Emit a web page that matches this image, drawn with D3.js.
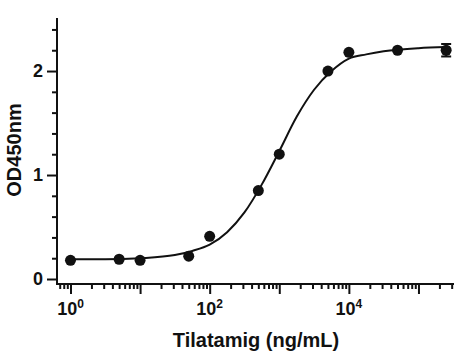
<!DOCTYPE html>
<html>
  <head>
    <meta charset="utf-8">
    <title>Tilatamig OD450</title>
    <script src="https://cdnjs.cloudflare.com/ajax/libs/d3/7.8.5/d3.min.js"></script>
    <style>
      body { margin: 0; background: #fff; }
      text { font-family: Arial, "Liberation Sans", sans-serif; font-weight: bold; fill: #111; }
    </style>
  </head>
  <body>
    <script>
      // measured points
      var conc = [1, 5, 10, 50, 100, 500, 1000, 5000, 10000, 50000, 250000];
      var od   = [0.18, 0.19, 0.18, 0.22, 0.41, 0.85, 1.20, 2.00, 2.18, 2.20, 2.20];
      var sem  = [0, 0, 0, 0, 0, 0, 0, 0, 0, 0, 0.06];

      // fitted curve
      var fitX = [1, 3.16, 10, 31.6, 56.2, 100, 178, 316, 562, 1000, 1778, 3162, 5623, 10000, 17783, 31623, 100000, 250000];
      var fitY = [0.19, 0.19, 0.20, 0.23, 0.27, 0.33, 0.45, 0.64, 0.91, 1.23, 1.56, 1.82, 2.00, 2.12, 2.16, 2.19, 2.22, 2.23];

      var yMajor = [0, 1, 2];
      var yMinor = [0.2, 0.4, 0.6, 0.8, 1.2, 1.4, 1.6, 1.8, 2.2, 2.4];
      var xLabelExp = [0, 2, 4];

      var svg = d3.select("body").append("svg")
        .attr("width", 472)
        .attr("height", 360);

      var x = d3.scaleLog().domain([0.64, 3.24e5]).range([57, 454]);
      var y = d3.scaleLinear().domain([-0.048, 2.51]).range([284, 18]);

      // x ticks
      var xMajor = [], xMinor = [];
      for (var e = -1; e <= 5; e++) {
        for (var m = 1; m <= 9; m++) {
          var v = m * Math.pow(10, e);
          if (v < 0.66 || v > 3.2e5) continue;
          if (m == 1) xMajor.push(v); else xMinor.push(v);
        }
      }

      svg.append("g").attr("transform", "translate(0,284)")
        .call(d3.axisBottom(x).tickValues(xMinor).tickSize(5).tickFormat(""))
        .call(function (g) { g.select(".domain").remove(); })
        .selectAll("line").attr("stroke", "#111").attr("stroke-width", 2);

      svg.append("g").attr("transform", "translate(0,284)")
        .call(d3.axisBottom(x).tickValues(xMajor).tickSize(10).tickFormat(""))
        .call(function (g) { g.select(".domain").remove(); })
        .selectAll("line").attr("stroke", "#111").attr("stroke-width", 2);

      var xl = svg.selectAll(".xlab").data(xLabelExp).enter().append("text")
        .attr("class", "xlab")
        .attr("x", function (d) { return x(Math.pow(10, d)); })
        .attr("y", 315)
        .attr("text-anchor", "middle")
        .style("font-size", "18px");
      xl.append("tspan").text("10");
      xl.append("tspan").attr("dy", -7).style("font-size", "12px").text(function (d) { return d; });

      // y ticks
      svg.append("g").attr("transform", "translate(57,0)")
        .call(d3.axisLeft(y).tickValues(yMinor).tickSize(5).tickFormat(""))
        .call(function (g) { g.select(".domain").remove(); })
        .selectAll("line").attr("stroke", "#111").attr("stroke-width", 2);

      var ya = svg.append("g").attr("transform", "translate(57,0)")
        .call(d3.axisLeft(y).tickValues(yMajor).tickSize(10).tickPadding(4).tickFormat(d3.format("d")))
        .call(function (g) { g.select(".domain").remove(); });
      ya.selectAll("line").attr("stroke", "#111").attr("stroke-width", 2);
      ya.selectAll("text").style("font-size", "18px").attr("fill", "#111");

      // axis lines
      svg.append("line").attr("x1", 57).attr("x2", 57).attr("y1", 18).attr("y2", 285)
        .attr("stroke", "#111").attr("stroke-width", 2);
      svg.append("line").attr("x1", 56).attr("x2", 454).attr("y1", 284).attr("y2", 284)
        .attr("stroke", "#111").attr("stroke-width", 2);

      // fit curve
      var line = d3.line()
        .x(function (d) { return x(d[0]); })
        .y(function (d) { return y(d[1]); })
        .curve(d3.curveMonotoneX);

      svg.append("path")
        .datum(d3.zip(fitX, fitY))
        .attr("d", line)
        .attr("fill", "none")
        .attr("stroke", "#111")
        .attr("stroke-width", 2);

      var pts = d3.zip(conc, od, sem);

      // error bars
      var eb = svg.selectAll(".eb").data(pts.filter(function (d) { return d[2] > 0; })).enter().append("g");
      eb.append("line")
        .attr("x1", function (d) { return x(d[0]); }).attr("x2", function (d) { return x(d[0]); })
        .attr("y1", function (d) { return y(d[1] - d[2]); }).attr("y2", function (d) { return y(d[1] + d[2]); })
        .attr("stroke", "#111").attr("stroke-width", 2);
      [-1, 1].forEach(function (s) {
        eb.append("line")
          .attr("x1", function (d) { return x(d[0]) - 5; }).attr("x2", function (d) { return x(d[0]) + 5; })
          .attr("y1", function (d) { return y(d[1] + s * d[2]); }).attr("y2", function (d) { return y(d[1] + s * d[2]); })
          .attr("stroke", "#111").attr("stroke-width", 2);
      });

      svg.selectAll("circle").data(pts).enter().append("circle")
        .attr("cx", function (d) { return x(d[0]); })
        .attr("cy", function (d) { return y(d[1]); })
        .attr("r", 5.5)
        .attr("fill", "#111");

      // titles
      svg.append("text")
        .attr("transform", "translate(21,150) rotate(-90)")
        .attr("text-anchor", "middle")
        .style("font-size", "20px")
        .text("OD450nm");

      svg.append("text")
        .attr("x", 256)
        .attr("y", 347)
        .attr("text-anchor", "middle")
        .style("font-size", "20px")
        .text("Tilatamig (ng/mL)");
    </script>
  </body>
</html>
